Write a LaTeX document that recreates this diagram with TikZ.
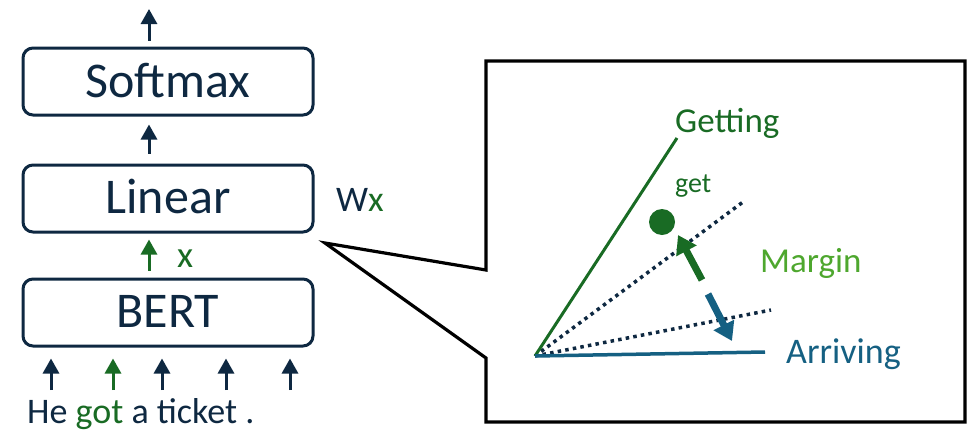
\documentclass[tikz,border=0pt]{standalone}
\usepackage{fontspec}
\setmainfont{Carlito}
\usetikzlibrary{arrows.meta,calc}
\definecolor{navy}{HTML}{0E2841}
\definecolor{dkgreen}{HTML}{196B24}
\definecolor{ltgreen}{HTML}{4EA72E}
\definecolor{tealblue}{HTML}{156082}
\tikzset{
  layerbox/.style={draw=navy, line width=3pt, rounded corners=10pt,
    minimum width=290pt, minimum height=67pt, inner sep=0pt,
    text=navy, font=\fontsize{50}{56}\selectfont, text depth=0pt},
  uparrow/.style={draw=navy, line width=3pt,
    -{Triangle[width=16pt,length=15pt]}},
  label/.style={inner sep=0pt, anchor=base west},
  ray/.style={line width=3pt},
  dotray/.style={draw=navy, line width=3.5pt, dash pattern=on 3.5pt off 4.2pt},
  fatarrow/.style={line width=7pt, -{Triangle[width=22pt,length=18pt]}},
}
\begin{document}
\begin{tikzpicture}[x=1pt,y=-1pt]
\useasboundingbox (0,0) rectangle (969,429);

% model stack
\node[layerbox, text height=31pt] (soft) at (168,81.5) {Softmax};
\node[layerbox, text height=30pt] (lin) at (168,198.5) {Linear};
\node[layerbox, text height=30pt] (bert) at (168,312.5) {BERT};

\coordinate (out) at (149,9);
\draw[uparrow] ([xshift=-19pt,yshift=6pt]soft.north) -- (out);
\draw[uparrow] ([xshift=-19pt,yshift=10pt]lin.north) -- ([xshift=-19pt,yshift=-8pt]soft.south);
\draw[uparrow, draw=dkgreen] ([xshift=-19pt,yshift=7pt]bert.north) -- ([xshift=-19pt,yshift=-6pt]lin.south);
\node[label, text=dkgreen, font=\fontsize{37}{40}\selectfont] (xvec) at (177,267) {x};
\node[label, font=\fontsize{36}{40}\selectfont] (wx) at (336,211) {\textcolor{navy}{W}\textcolor{dkgreen}{x}};

% input tokens
\foreach \n/\xx/\c in {1/51/navy, 2/113/dkgreen, 3/162/navy, 4/226/navy, 5/290/navy}{
  \coordinate (tok\n) at (\xx,390);
  \draw[uparrow, draw=\c] (tok\n) -- ([yshift=-11pt]tok\n |- bert.south);
}
\node[label, text=navy, font=\fontsize{36}{40}\selectfont] (sent) at (27,423)
  {He \textcolor{dkgreen}{got} a ticket .};

% callout frame
\coordinate (c1) at (486,61);
\coordinate (c2) at (965,61);
\coordinate (c3) at (965,422);
\coordinate (c4) at (486,422);
\coordinate (c5) at (486,358);
\coordinate (tip) at (325,243);
\coordinate (c6) at (486,270);
\draw[line width=3.2pt, line join=miter] (c1) -- (c2) -- (c3) -- (c4) -- (c5) -- (tip) -- (c6) -- cycle;

% embedding space
\coordinate (O) at (535,356);
\coordinate (gEnd) at (677,138);
\coordinate (aEnd) at (765,352);
\coordinate (d1) at (743,202);
\coordinate (d2) at (771,310);
\draw[dotray] (O) -- (d1);
\draw[dotray] (O) -- (d2);
\draw[ray, draw=dkgreen] (O) -- (gEnd);
\draw[ray, draw=tealblue, line width=3.5pt] (O) -- (aEnd);

\node[circle, fill=dkgreen, minimum size=26pt, inner sep=0pt] (pt) at (662,222) {};
\coordinate (gTail) at (702,280);
\coordinate (gTip) at (678,235);
\coordinate (bTail) at (708,294);
\coordinate (bTip) at (732,341);
\draw[fatarrow, draw=dkgreen, fill=dkgreen] (gTail) -- (gTip);
\draw[fatarrow, draw=tealblue, fill=tealblue] (bTail) -- (bTip);

\node[label, text=dkgreen, font=\fontsize{35}{40}\selectfont] (getting) at (675,132) {Getting};
\node[label, text=dkgreen, font=\fontsize{28}{32}\selectfont] (get) at (675,192) {get};
\node[label, text=ltgreen, font=\fontsize{35}{40}\selectfont] (margin) at (760,272) {Margin};
\node[label, text=tealblue, font=\fontsize{36}{40}\selectfont] (arriving) at (786,363) {Arriving};
\end{tikzpicture}
\end{document}
